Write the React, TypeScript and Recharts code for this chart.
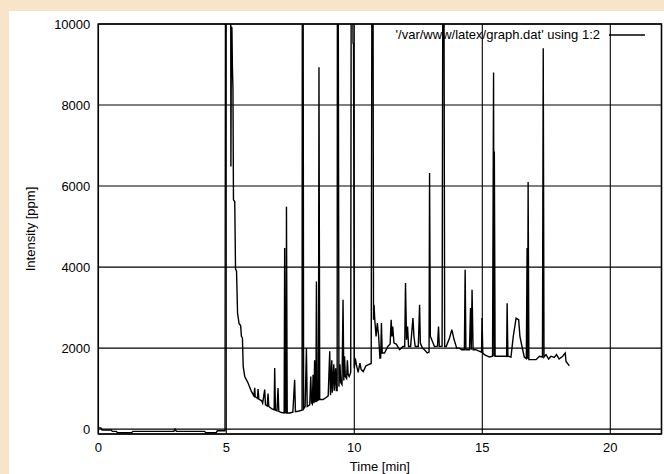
import React from 'react';
import { LineChart, Line, XAxis, YAxis, CartesianGrid, ReferenceArea, Legend } from 'recharts';

type Pt = [number, number];

// [time (min), intensity (ppm)], split by region
const flatStart: Pt[] = [
  [0, 30], [0.1, 30], [0.15, -20], [0.5, -20], [0.55, -55], [0.7, -55], [0.75, -90],
  [1.3, -90], [1.35, -55], [2.95, -55], [3.0, 0], [3.05, -55], [4.15, -55], [4.2, -90],
  [4.6, -90], [4.65, -40], [4.95, -40],
];

const solventFront: Pt[] = [
  [4.97, 12000], [5.17, 12000], [5.18, 6480], [5.2, 9930], [5.22, 9900], [5.24, 8900],
  [5.26, 8420], [5.28, 5660], [5.33, 5620], [5.36, 3950], [5.4, 3900], [5.44, 2860],
  [5.5, 2600], [5.56, 2560], [5.59, 2290], [5.63, 2250], [5.66, 1550], [5.72, 1300],
  [5.85, 1140], [5.98, 930],
];

const lowValley: Pt[] = [
  [6.08, 820], [6.11, 1020], [6.13, 800], [6.22, 760], [6.24, 990], [6.27, 740],
  [6.38, 700], [6.42, 640], [6.5, 975], [6.53, 600], [6.6, 570], [6.63, 880], [6.66, 560],
  [6.78, 500], [6.87, 480], [6.89, 1510], [6.92, 470], [6.98, 450], [7.02, 1015],
  [7.05, 440], [7.15, 410], [7.26, 400], [7.28, 4470], [7.31, 410], [7.34, 400],
  [7.35, 5490], [7.38, 400], [7.48, 400], [7.6, 420], [7.67, 1220], [7.7, 430],
  [7.8, 440], [7.9, 460],
];

const midCluster: Pt[] = [
  [7.96, 470], [7.97, 12000], [8.0, 12000], [8.02, 500], [8.08, 560], [8.13, 2000],
  [8.16, 560], [8.26, 600], [8.3, 1300], [8.33, 650], [8.36, 620], [8.39, 1345],
  [8.42, 640], [8.45, 1700], [8.47, 680], [8.5, 680], [8.52, 3645], [8.55, 700],
  [8.6, 720], [8.62, 8930], [8.65, 730], [8.78, 730], [8.9, 780], [8.98, 820],
  [9.04, 1920], [9.07, 840], [9.12, 1700], [9.14, 900], [9.2, 1600], [9.22, 950],
  [9.27, 1500], [9.3, 950], [9.33, 950], [9.34, 12000], [9.37, 12000], [9.4, 1050],
  [9.44, 1600], [9.47, 1150], [9.52, 1100], [9.56, 3195], [9.59, 1200], [9.62, 1800],
  [9.65, 1300], [9.7, 1250], [9.73, 1700], [9.76, 1350], [9.8, 1300], [9.86, 1400],
  [9.88, 12000], [9.93, 12000], [9.95, 9530], [9.97, 9500], [10.0, 1500], [10.04, 1750],
  [10.08, 1590], [10.15, 1400], [10.22, 1630], [10.27, 1470], [10.35, 1420],
  [10.45, 1560], [10.55, 1590], [10.66, 1620],
];

const lateRegion: Pt[] = [
  [10.69, 12000], [10.73, 12000], [10.75, 2700], [10.77, 3070], [10.8, 2700],
  [10.85, 2290], [10.9, 2620], [10.95, 2300], [11.0, 1755], [11.03, 1760], [11.06, 2620],
  [11.09, 1880], [11.18, 1880], [11.31, 2040], [11.4, 2100], [11.44, 2700], [11.47, 2290],
  [11.5, 2535], [11.55, 2125], [11.64, 2100], [11.77, 1960], [11.9, 2040], [11.97, 2040],
  [12.0, 3605], [12.04, 2205], [12.08, 2535], [12.12, 2040], [12.2, 2040], [12.29, 2740],
  [12.33, 2290], [12.38, 2040], [12.5, 2040], [12.55, 3070], [12.58, 2125], [12.66, 2000],
  [12.74, 1960], [12.85, 1880], [12.92, 1900], [12.94, 6320], [12.97, 2290], [13.03, 2200],
  [13.13, 2040], [13.25, 2050], [13.29, 2535], [13.32, 2040], [13.43, 2050],
  [13.46, 12000], [13.5, 12000], [13.53, 2040], [13.59, 2040], [13.72, 2250],
  [13.81, 2455], [13.9, 2205], [14.0, 2000], [14.1, 2000], [14.2, 1960], [14.3, 1960],
  [14.33, 3935], [14.36, 1960], [14.43, 1960], [14.5, 1960], [14.54, 2990], [14.57, 1960],
  [14.6, 3440], [14.64, 1960], [14.75, 1960], [14.85, 1930], [14.97, 1900], [14.99, 2740],
  [15.02, 1880], [15.08, 1840], [15.2, 1800], [15.28, 1780], [15.4, 1800], [15.44, 8800],
  [15.46, 1800], [15.47, 6850], [15.5, 1800], [15.6, 1800], [15.75, 1800], [15.9, 1800],
  [15.95, 1795], [15.97, 3110], [16.0, 1800], [16.12, 1780], [16.21, 2290], [16.32, 2740],
  [16.42, 2700], [16.47, 2290], [16.55, 2040], [16.64, 1780], [16.72, 1740], [16.75, 4470],
  [16.77, 1740], [16.79, 6100], [16.82, 1715], [16.95, 1715], [17.1, 1715], [17.23, 1800],
  [17.35, 1780], [17.38, 9400], [17.41, 1780], [17.49, 1840], [17.59, 1730], [17.68, 1800],
  [17.81, 1770], [17.9, 1840], [18.0, 1730], [18.14, 1800], [18.24, 1880], [18.27, 1670],
  [18.4, 1565],
];

const timeTicks = [0, 5, 10, 15, 20];
const intensityTicks = [0, 2000, 4000, 6000, 8000, 10000];
const seriesName = "'/var/www/latex/graph.dat' using 1:2";

const trace = [...flatStart, ...solventFront, ...lowValley, ...midCluster, ...lateRegion].map(
  ([t, v]) => ({ t, v })
);

const FONT = '"Liberation Sans", Arial, sans-serif';
const tickStyle = { fill: '#000', fontSize: 13, fontFamily: FONT };

function KeyBox() {
  return (
    <div style={{ display: 'flex', alignItems: 'center', fontFamily: FONT, fontSize: 13, color: '#000', whiteSpace: 'nowrap' }}>
      <span>{seriesName}</span>
      <svg width={45} height={10} style={{ display: 'block' }}>
        <line x1={9} x2={45} y1={5} y2={5} stroke="#000" strokeWidth={1.3} />
      </svg>
    </div>
  );
}

export default function App() {
  return (
    <div style={{ position: 'absolute', left: 0, top: 0, width: 664, height: 474, background: '#F8E4C8' }}>
      <div style={{ position: 'absolute', left: 9, top: 11, width: 655, height: 463, background: '#fff' }}>
        <LineChart width={655} height={463} data={trace} margin={{ top: 13, right: 2.5, bottom: 0, left: 0 }}>
          <CartesianGrid stroke="#000" strokeWidth={1.1} />
          <XAxis
            type="number"
            dataKey="t"
            domain={[0, 22]}
            ticks={timeTicks}
            allowDataOverflow
            axisLine={false}
            tickLine={false}
            tickSize={0}
            tickMargin={9}
            height={40}
            tick={tickStyle}
            label={{ value: 'Time [min]', position: 'insideBottom', offset: 3, fill: '#000', fontSize: 13, fontFamily: FONT }}
          />
          <YAxis
            type="number"
            domain={[-120, 10000]}
            ticks={intensityTicks}
            allowDataOverflow
            axisLine={false}
            tickLine={false}
            tickSize={0}
            tickMargin={8}
            width={89.3}
            tick={tickStyle}
            label={{
              value: 'Intensity [ppm]',
              angle: -90,
              position: 'insideLeft',
              offset: 21,
              fill: '#000',
              fontSize: 13,
              fontFamily: FONT,
              style: { textAnchor: 'middle' },
            }}
          />
          <ReferenceArea x1={0} x2={22} y1={-120} y2={10000} fill="none" stroke="#000" strokeWidth={1.5} />
          <Legend
            layout="horizontal"
            verticalAlign="middle"
            align="center"
            content={KeyBox}
            wrapperStyle={{ left: 'auto', right: 19, top: 16, bottom: 'auto', width: 'auto', height: 16 }}
          />
          <Line
            type="linear"
            dataKey="v"
            name={seriesName}
            stroke="#000"
            strokeWidth={1.4}
            dot={false}
            activeDot={false}
            isAnimationActive={false}
          />
        </LineChart>
      </div>
    </div>
  );
}
